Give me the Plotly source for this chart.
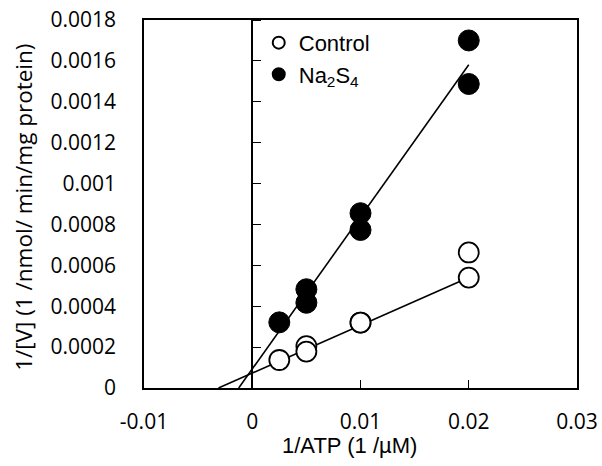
import numpy as np
import plotly.graph_objects as go

# ---- data ----
atp_inv = [0.0025, 0.005, 0.005, 0.01, 0.01, 0.02, 0.02]
control_v_inv = [0.000137, 0.000205, 0.000178, 0.00032, 0.00032, 0.000663, 0.00054]
na2s4_v_inv = [0.000321, 0.000483, 0.000417, 0.000855, 0.000773, 0.0017, 0.001487]

# regression lines (slope, intercept)
control_fit = (0.0234, 0.000073)
na2s4_fit = (0.0744, 0.000093)

x_tickvals = [-0.01, 0, 0.01, 0.02, 0.03]
x_ticktext = ["-0.01", "0", "0.01", "0.02", "0.03"]
y_tickvals = [0, 0.0002, 0.0004, 0.0006, 0.0008, 0.001, 0.0012, 0.0014, 0.0016, 0.0018]
y_ticktext = ["0", "0.0002", "0.0004", "0.0006", "0.0008", "0.001", "0.0012", "0.0014", "0.0016", "0.0018"]

x_range = [-0.01, 0.03]
y_range = [0, 0.0018]

x_title = "1/ATP (1 /µM)"
y_title = "1/[V] (1 /nmol/ min/mg protein)"

TICK_FONT = "Open Sans, Noto Sans, sans-serif"
ARIAL = "Liberation Sans, Arial, sans-serif"


def fit_line(fit, x_end):
    slope, intercept = fit
    x0 = -intercept / slope
    xs = np.array([x0, x_end])
    return xs, slope * xs + intercept


fig = go.Figure()

x_end = max(atp_inv)
for fit in (control_fit, na2s4_fit):
    lx, ly = fit_line(fit, x_end)
    fig.add_trace(go.Scatter(x=lx, y=ly, mode="lines", line=dict(color="black", width=1.6),
                             showlegend=False, hoverinfo="skip"))

fig.add_trace(go.Scatter(
    x=atp_inv, y=control_v_inv, mode="markers", name="Control",
    marker=dict(symbol="circle", size=20, color="white", line=dict(color="black", width=1.8))))
fig.add_trace(go.Scatter(
    x=atp_inv, y=na2s4_v_inv, mode="markers", name="Na<sub>2</sub>S<sub>4</sub>",
    marker=dict(symbol="circle", size=21, color="black", line=dict(color="black", width=1))))

# invisible trace to carry the y-axis drawn at x = 0
fig.add_trace(go.Scatter(x=[0], y=[0], yaxis="y2", mode="markers", marker=dict(opacity=0),
                         showlegend=False, hoverinfo="skip"))

zero_pos = (0 - x_range[0]) / (x_range[1] - x_range[0])

fig.update_layout(
    width=602, height=466,
    margin=dict(l=144, r=25, t=20, b=78, autoexpand=False),
    paper_bgcolor="white", plot_bgcolor="white",
    showlegend=True,
    legend=dict(x=0.265, y=0.995, xanchor="left", yanchor="top",
                font=dict(family=ARIAL, size=22, color="black"),
                itemsizing="constant", bgcolor="rgba(0,0,0,0)",
                tracegroupgap=0, itemwidth=30),
    xaxis=dict(range=x_range, domain=[0, 1], tickvals=x_tickvals, ticktext=x_ticktext,
               automargin=False, ticklabeloverflow="allow",
               showgrid=False, zeroline=False, showline=True, linecolor="black", linewidth=1.6,
               mirror=True, ticks="inside", ticklen=8, tickwidth=1.4, tickcolor="black",
               ticklabelstandoff=14,
               tickfont=dict(family=TICK_FONT, size=21, color="black")),
    yaxis=dict(range=y_range, tickvals=y_tickvals, ticktext=y_ticktext, automargin=False,
               ticklabeloverflow="allow",
               showgrid=False, zeroline=False, showline=True, linecolor="black", linewidth=1.6,
               mirror=True, ticks="", ticklabelstandoff=22,
               tickfont=dict(family=TICK_FONT, size=21, color="black")),
    yaxis2=dict(range=y_range, overlaying="y", anchor="free", position=zero_pos, side="right",
                tickvals=y_tickvals, showticklabels=False, showgrid=False, zeroline=False,
                showline=True, linecolor="black", linewidth=1.6, automargin=False,
                ticks="outside", ticklen=8, tickwidth=1.4, tickcolor="black"),
    annotations=[
        dict(text=x_title, xref="paper", yref="paper", x=0.475, y=-0.155,
             xanchor="center", yanchor="middle", showarrow=False,
             font=dict(family=ARIAL, size=22, color="black")),
        dict(text=y_title, xref="paper", yref="paper", x=-0.279, y=0.49, textangle=-90,
             xanchor="center", yanchor="middle", showarrow=False,
             font=dict(family=TICK_FONT, size=22.5, color="black")),
    ],
)

# remove the page's default 8px body margin so the figure fills the window exactly
fig.write_html("out.html", config={"displayModeBar": False},
               post_script="document.body.style.margin='0';document.body.style.overflow='hidden';")
